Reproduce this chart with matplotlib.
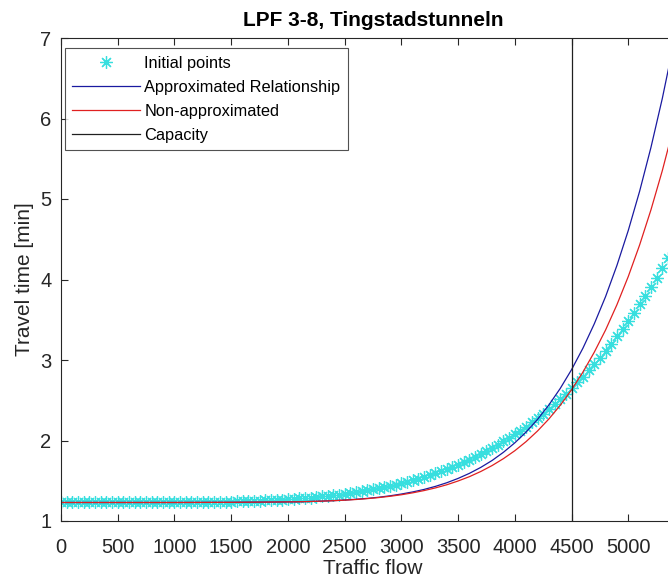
import matplotlib
matplotlib.use("Agg")
import matplotlib.pyplot as plt

plt.rcParams['font.family'] = ['Liberation Sans', 'DejaVu Sans']

# ---- data ----
flow_pts = list(range(0, 5501, 50))
time_pts = ([1.230] * 20 +
            [1.232, 1.232, 1.233, 1.233, 1.234, 1.235, 1.236, 1.237, 1.238, 1.239] +
            [1.241, 1.243, 1.245, 1.247, 1.250, 1.252, 1.255, 1.259, 1.262, 1.266,
             1.270, 1.275, 1.280, 1.286, 1.291, 1.298, 1.305, 1.312, 1.320, 1.328,
             1.338, 1.347, 1.358, 1.369, 1.381, 1.393, 1.407, 1.421, 1.436, 1.452,
             1.469, 1.488, 1.507, 1.527, 1.548, 1.570, 1.594, 1.619, 1.645, 1.672,
             1.701, 1.731, 1.763, 1.796, 1.831, 1.868, 1.906, 1.946, 1.988, 2.031,
             2.077, 2.124, 2.173, 2.225, 2.279, 2.335, 2.393, 2.454, 2.517, 2.582,
             2.650, 2.721, 2.794, 2.870, 2.949, 3.030, 3.115, 3.203, 3.294, 3.388,
             3.485, 3.586, 3.690, 3.797, 3.908, 4.024, 4.143, 4.265, 4.392, 4.522,
             4.657])

flow_line = [0, 500, 1000, 1500, 2000, 2100, 2200, 2300, 2400, 2500, 2600, 2700,
             2800, 2900, 3000, 3100, 3200, 3300, 3400, 3500, 3600, 3700, 3800, 3900,
             4000, 4100, 4200, 4300, 4400, 4500, 4600, 4700, 4800, 4900, 5000, 5100,
             5200, 5300, 5400, 5500]
time_approx = [1.230, 1.230, 1.230, 1.232, 1.237, 1.239, 1.243, 1.247, 1.253, 1.260,
               1.270, 1.281, 1.295, 1.313, 1.335, 1.361, 1.392, 1.430, 1.475, 1.529,
               1.592, 1.666, 1.752, 1.854, 1.971, 2.106, 2.262, 2.441, 2.646, 2.880,
               3.146, 3.448, 3.788, 4.175, 4.609, 5.096, 5.641, 6.249, 6.929, 7.690]
time_nonapprox = [1.230, 1.230, 1.230, 1.232, 1.237, 1.239, 1.242, 1.247, 1.252, 1.259,
                  1.267, 1.278, 1.291, 1.307, 1.326, 1.350, 1.378, 1.411, 1.450, 1.497,
                  1.551, 1.615, 1.689, 1.775, 1.873, 1.987, 2.118, 2.267, 2.437, 2.630,
                  2.849, 3.096, 3.373, 3.687, 4.037, 4.429, 4.866, 5.352, 5.893, 6.495]
capacity = 4500
xticks = [0, 500, 1000, 1500, 2000, 2500, 3000, 3500, 4000, 4500, 5000]
yticks = [1, 2, 3, 4, 5, 6, 7]

fig = plt.figure(figsize=(6.68, 5.79), dpi=100)
ax = fig.add_axes([61 / 668, 58 / 579, 624 / 668, 483 / 579])

ax.plot(flow_pts, time_pts, linestyle='none', marker=(8, 2, 0), markersize=9,
        markeredgewidth=0.9, color='#38dfdf', label='Initial points')
ax.plot(flow_line, time_approx, color='#1a1aa0', lw=0.9, label='Approximated Relationship')
ax.plot(flow_line, time_nonapprox, color='#e02020', lw=0.9, label='Non-approximated')
ax.plot([capacity, capacity], [1, 7], color='#202020', lw=0.9, label='Capacity')

ax.set_xlim(0, 5500)
ax.set_ylim(1, 7)
ax.set_xticks(xticks)
ax.set_yticks(yticks)
ax.tick_params(direction='in', top=True, right=True, labelsize=14.5,
               colors='#262626', length=5, width=0.8)
ax.tick_params(axis='x', pad=12)
ax.tick_params(axis='y', pad=7)
for s in ax.spines.values():
    s.set_color('#262626')
    s.set_linewidth(0.8)

ax.set_title('LPF 3-8, Tingstadstunneln', fontsize=15, fontweight='bold',
             color='black', pad=9)
ax.set_xlabel('Traffic flow', fontsize=15, color='#262626', labelpad=2)
ax.set_ylabel('Travel time [min]', fontsize=15, color='#262626', labelpad=4)

leg = ax.legend(loc='upper left', bbox_to_anchor=(0.0064, 0.979), fontsize=11.8,
                frameon=True, fancybox=False, edgecolor='#262626',
                handlelength=4.1, handletextpad=0.3, borderpad=0.45,
                labelspacing=0.55, borderaxespad=0)
leg.get_frame().set_linewidth(0.8)

fig.savefig('out.png', dpi=100)
